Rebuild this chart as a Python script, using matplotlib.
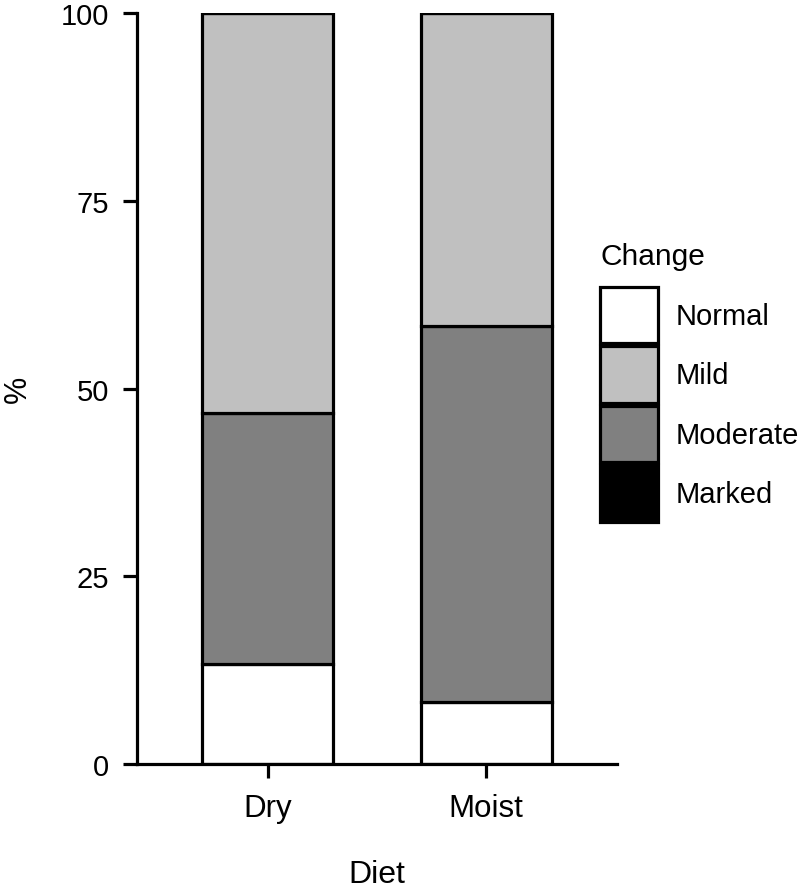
import matplotlib.pyplot as plt
import numpy as np

# data (percent of animals per diet)
diets = ["Dry", "Moist"]
categories = ["Normal", "Mild", "Moderate", "Marked"]
normal = [13.3, 8.3]
moderate = [33.4, 50.0]
mild = [53.3, 41.7]
marked = [0.0, 0.0]
y_ticks = [0, 25, 50, 75, 100]

colors = {"Normal": "white", "Mild": "#c0c0c0", "Moderate": "#808080", "Marked": "black"}

plt.rcParams['font.family'] = ['Liberation Sans', 'DejaVu Sans']
plt.rcParams['font.size'] = 22

fig = plt.figure(figsize=(8, 8.87), dpi=100)
ax = fig.add_axes([0.17125, 0.1375, 0.6, 0.8467])

x = np.arange(len(diets))
width = 0.6
lw = 2.3

# stacking order from bottom: Normal, Moderate, Mild (Marked is empty)
stack = [("Normal", normal), ("Moderate", moderate), ("Mild", mild), ("Marked", marked)]
bottom = np.zeros(len(diets))
handles = {}
for name, vals in stack:
    vals = np.array(vals)
    bars = ax.bar(x, vals, width, bottom=bottom, color=colors[name],
                  edgecolor="black", linewidth=lw, label=name)
    handles[name] = bars
    bottom += vals

ax.set_xlim(-0.6, 1.6)
ax.set_ylim(0, 100)
ax.set_yticks(y_ticks)
ax.set_xticks(x)
ax.set_xticklabels(diets, fontsize=22.5)
ax.set_xlabel("Diet", labelpad=26, fontsize=23)
ax.set_ylabel("%", labelpad=20)

for side in ["top", "right"]:
    ax.spines[side].set_visible(False)
for side in ["left", "bottom"]:
    ax.spines[side].set_linewidth(lw)
ax.tick_params(axis="both", length=10, width=lw)
ax.tick_params(axis="x", pad=11)
ax.tick_params(axis="y", pad=10, labelsize=21)

leg = fig.legend([handles[c] for c in categories], categories,
                 loc="upper left", bbox_to_anchor=(600 / 800, 1 - 288 / 887),
                 frameon=False, borderpad=0, borderaxespad=0, fontsize=21,
                 handlelength=2.0, handleheight=2.6,
                 labelspacing=0.1, handletextpad=0.6)
fig.text(600 / 800, 1 - 265 / 887, "Change", fontsize=21.5, ha="left", va="baseline")

fig.savefig("out.png", dpi=100)
